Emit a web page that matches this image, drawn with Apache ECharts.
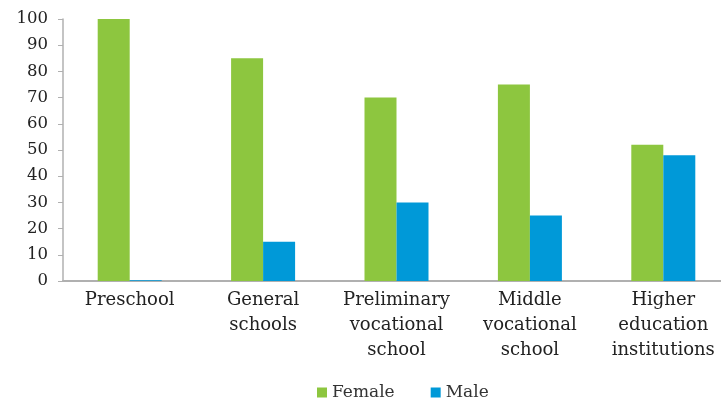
<!DOCTYPE html>
<html><head><meta charset="utf-8">
<script src="https://cdn.jsdelivr.net/npm/echarts@6/dist/echarts.min.js"></script>
<style>html,body{margin:0;padding:0;background:#fff}#c{width:721px;height:400px}</style>
</head><body><div id="c"></div>
<script>
const categories = ["Preschool", "General\nschools", "Preliminary\nvocational\nschool", "Middle\nvocational\nschool", "Higher\neducation\ninstitutions"];
const female = [100, 85, 70, 75, 52];
const male = [0.3, 15, 30, 25, 48];
const yTicks = [0, 10, 20, 30, 40, 50, 60, 70, 80, 90, 100];
const font = "DejaVu Serif";
const chart = echarts.init(document.getElementById('c'));
chart.setOption({
  animation: false,
  grid: {left: 63, width: 667, top: 19, height: 262, containLabel: false, outerBoundsMode: 'none'},
  legend: {
    top: 379, left: 312, itemWidth: 10, itemHeight: 10, itemGap: 36,
    icon: 'rect',
    textStyle: {fontFamily: font, fontSize: 17, color: '#333'},
    data: ['Female', 'Male']
  },
  xAxis: {
    type: 'category', data: categories,
    axisLine: {lineStyle: {color: '#b0b0b0', width: 2}},
    axisTick: {show: false},
    axisLabel: {fontFamily: font, fontSize: 18, color: '#222', lineHeight: 25, margin: 7, interval: 0}
  },
  yAxis: {
    type: 'value', min: 0, max: 100, interval: 10,
    axisLine: {show: true, lineStyle: {color: '#b0b0b0', width: 1.5}},
    axisTick: {show: true, length: 5, lineStyle: {color: '#b0b0b0'}},
    splitLine: {show: false},
    axisLabel: {fontFamily: font, fontSize: 16.5, color: '#222', margin: 15,
      formatter: v => yTicks.includes(v) ? String(v) : ''}
  },
  series: [
    {name: 'Female', type: 'bar', data: female, barWidth: 32, barGap: '0%', itemStyle: {color: '#8dc63f'}},
    {name: 'Male', type: 'bar', data: male, barWidth: 32, barGap: '0%', itemStyle: {color: '#0099d8'}}
  ]
});
</script></body></html>
